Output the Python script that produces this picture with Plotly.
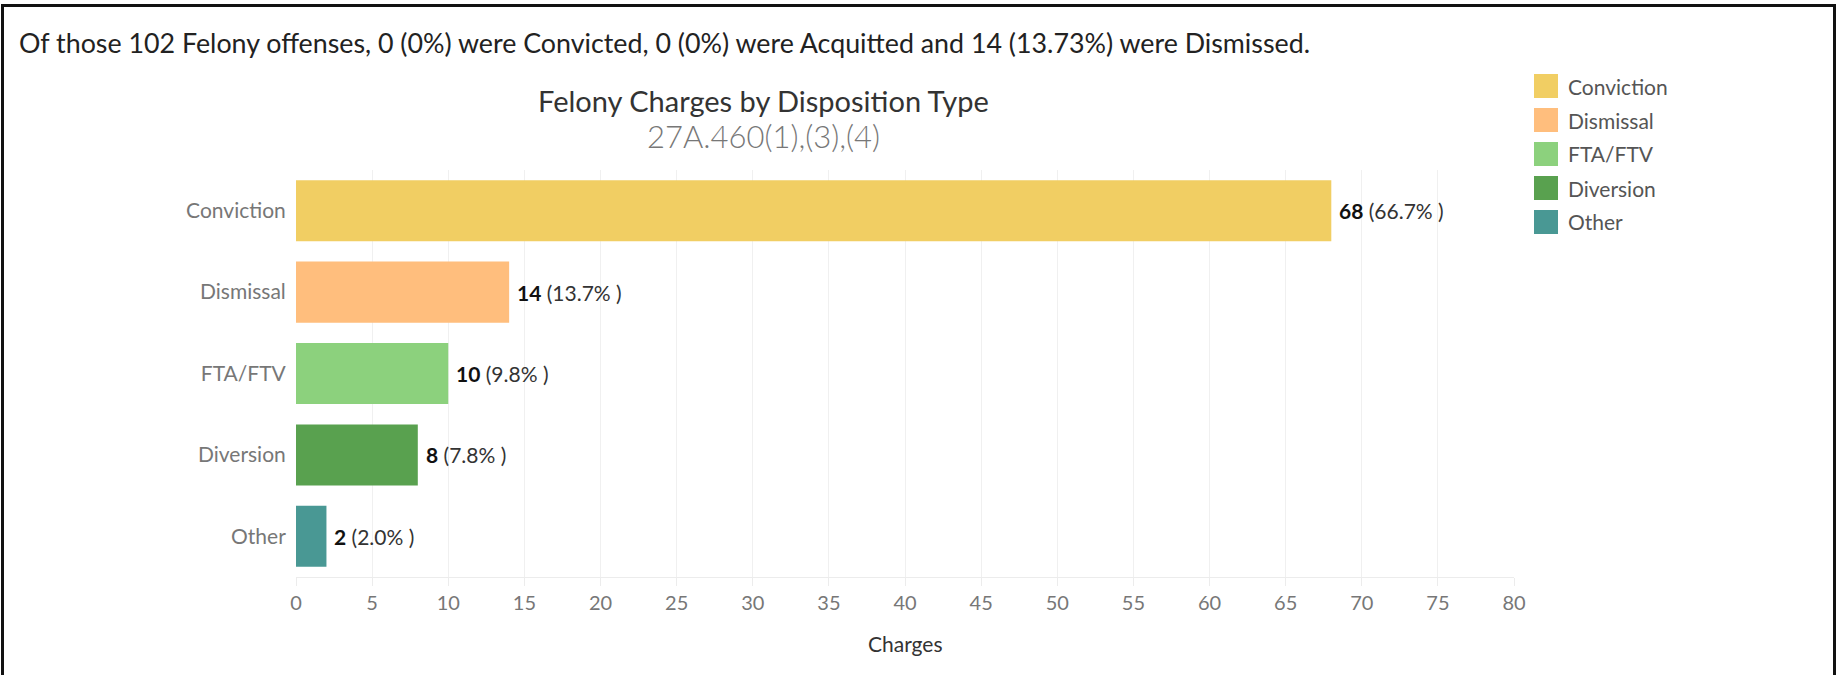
import plotly.graph_objects as go

categories = ["Conviction", "Dismissal", "FTA/FTV", "Diversion", "Other"]
charges = [68, 14, 10, 8, 2]
pct_labels = ["66.7", "13.7", "9.8", "7.8", "2.0"]
colors = ["#F1CE63", "#FFBE7D", "#8CD17D", "#59A14F", "#499894"]
x_ticks = list(range(0, 85, 5))

header = ("Of those 102 Felony offenses, 0 (0%) were Convicted, 0 (0%) were "
          "Acquitted and 14 (13.73%) were Dismissed.")
title = "Felony Charges by Disposition Type"
subtitle = "27A.460(1),(3),(4)"

W, H = 1843, 675
L, R, T, B = 296, 1514, 170, 577
PW, PH = R - L, B - T
FONT = "Lato"

def px(x):
    return (x - L) / PW

def py(y):
    return 1 - (y - T) / PH

fig = go.Figure()
fig.add_trace(go.Bar(
    y=categories, x=charges, orientation="h",
    marker=dict(color=colors, line=dict(width=0)),
    width=0.75,
    showlegend=False,
    hoverinfo="skip",
))

annotations = [
    dict(text=header, x=px(17), y=py(43), xref="paper", yref="paper", xanchor="left",
         yanchor="middle", showarrow=False, font=dict(family=FONT, size=26.8, color="#222")),
    dict(text=title, x=px(763), y=py(100), xref="paper", yref="paper", xanchor="center",
         yanchor="middle", showarrow=False, font=dict(family=FONT, size=29, color="#333")),
    dict(text=subtitle, x=px(763), y=py(136), xref="paper", yref="paper", xanchor="center",
         yanchor="middle", showarrow=False, font=dict(family=FONT, size=31, color="#777", weight=300)),
    dict(text="Charges", x=0.5, y=py(643), xref="paper", yref="paper", xanchor="center",
         yanchor="middle", showarrow=False, font=dict(family=FONT, size=21, color="#333")),
]
for cat, c, p in zip(categories, charges, pct_labels):
    annotations.append(dict(
        text=f"<b>{c}</b><span style='color:#333'> ({p}% )</span>",
        x=c, y=cat, xref="x", yref="y", xanchor="left", yanchor="middle", xshift=6,
        showarrow=False, font=dict(family=FONT, size=21, color="#111")))

shapes = [
    dict(type="rect", xref="paper", yref="paper", x0=px(2.5), x1=px(1834.5), y0=py(700), y1=py(5.5),
         line=dict(color="#111", width=3), fillcolor="rgba(0,0,0,0)", layer="above"),
]
for i, (cat, col) in enumerate(zip(categories, colors)):
    yc = 86 + i * 34
    shapes.append(dict(type="rect", xref="paper", yref="paper", x0=px(1534), x1=px(1558),
                       y0=py(yc + 12), y1=py(yc - 12), fillcolor=col, line=dict(width=0)))
    annotations.append(dict(text=cat, x=px(1566), y=py(yc), xref="paper", yref="paper",
                            xanchor="left", yanchor="middle", showarrow=False,
                            font=dict(family=FONT, size=21, color="#555")))

fig.update_layout(
    width=W, height=H, autosize=False,
    margin=dict(l=L, r=W - R, t=T, b=H - B, pad=0),
    paper_bgcolor="white", plot_bgcolor="white",
    annotations=annotations, shapes=shapes,
    font=dict(family=FONT),
    xaxis=dict(range=[0, 80], tickvals=x_ticks, showgrid=True, gridcolor="#f0f0f0", gridwidth=1,
               zeroline=False, showline=True, linecolor="#ececec", linewidth=1,
               ticks="outside", ticklen=8, tickcolor="#ececec",
               tickfont=dict(family=FONT, size=20, color="#777"), fixedrange=True),
    yaxis=dict(categoryorder="array", categoryarray=categories, autorange="reversed",
               showgrid=False, zeroline=False, showline=False,
               ticks="outside", ticklen=5, tickcolor="rgba(0,0,0,0)",
               tickfont=dict(family=FONT, size=21, color="#777"), fixedrange=True),
)

fig.write_html("out.html", config={"displayModeBar": False},
               post_script="document.body.style.margin='0';document.body.style.overflow='hidden';")
